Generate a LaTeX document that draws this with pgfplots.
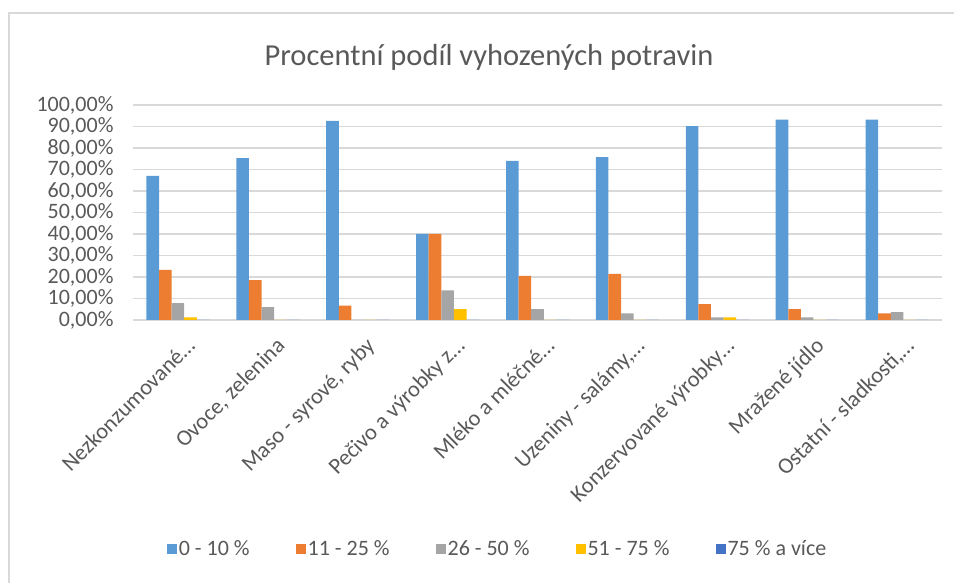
\documentclass[border=0pt]{standalone}
\usepackage{pgfplots}
\pgfplotsset{compat=1.18}
\usepackage{fontspec}
\setmainfont{Carlito}
\definecolor{s1}{HTML}{5B9BD5}
\definecolor{s2}{HTML}{ED7D31}
\definecolor{s3}{HTML}{A5A5A5}
\definecolor{s4}{HTML}{FFC000}
\definecolor{s5}{HTML}{4472C4}
\definecolor{txt}{HTML}{595959}
\definecolor{gridc}{HTML}{D9D9D9}
\begin{document}
\begin{tikzpicture}
\useasboundingbox (0,0) rectangle (954bp,583bp);
\draw[gridc, line width=2.5bp] (9bp,0bp) -- (9bp,570bp) -- (954bp,570bp);
\begin{axis}[
  at={(133bp,263bp)}, anchor=south west,
  scale only axis, width=809bp, height=215bp,
  ymin=0, ymax=100, xmin=-0.5, xmax=8.5,
  ybar=0pt, bar width=12.6bp,
  ytick={0,10,...,100},
  xtick={0,...,8},
  xticklabels={Nezkonzumované…, {Ovoce, zelenina}, {Maso - syrové, ryby}, Pečivo a výrobky z…, Mléko a mléčné…, {Uzeniny - salámy,…}, Konzervované výrobky…, Mražené jídlo, {Ostatní - sladkosti,…}},
  yticklabel={\pgfmathprintnumber[fixed,fixed zerofill,precision=2,use comma]{\tick}\%},
  /pgf/number format/assume math mode=true,
  axis line style={draw=none},
  axis x line*=bottom,
  x axis line style={draw=gridc, line width=1.5bp},
  ymajorgrids, grid style={gridc, line width=1.5bp},
  major tick length=0pt,
  tick label style={font=\fontsize{22bp}{22bp}\selectfont, text=txt},
  yticklabel style={anchor=east, xshift=-16bp},
  xticklabel style={rotate=45, anchor=north east, xshift=-3bp, yshift=-13bp, font=\fontsize{22.5bp}{23bp}\selectfont},
  title={Procentní podíl vyhozených potravin},
  title style={at={(0.44,1.195)}, anchor=center, font=\fontsize{30.5bp}{31bp}\selectfont, text=txt},
  legend style={at={(0.4506,-1.065)}, anchor=center, draw=none, legend columns=5,
    font=\fontsize{22bp}{22bp}\selectfont, text=txt,
    /tikz/every even column/.append style={column sep=44bp}},
  legend image code/.code={\fill[#1] (0bp,-5bp) rectangle (10bp,5bp);},
  every axis plot/.append style={draw=none},
]
\addplot[fill=s1] coordinates {(0,67.0) (1,75.3) (2,92.6) (3,40.0) (4,74.0) (5,75.8) (6,90.2) (7,93.2) (8,93.2)};
\addplot[fill=s2] coordinates {(0,23.3) (1,18.6) (2,6.7) (3,40.0) (4,20.5) (5,21.5) (6,7.4) (7,5.0) (8,3.1)};
\addplot[fill=s3] coordinates {(0,7.8) (1,6.0) (2,0) (3,13.8) (4,5.0) (5,3.1) (6,1.2) (7,1.2) (8,3.7)};
\addplot[fill=s4] coordinates {(0,1.2) (1,0) (2,0) (3,5.0) (4,0) (5,0) (6,1.2) (7,0) (8,0)};
\addplot[fill=s5] coordinates {(0,0) (1,0) (2,0) (3,0) (4,0) (5,0) (6,0) (7,0) (8,0)};
\legend{0 - 10 \%, 11 - 25 \%, 26 - 50 \%, 51 - 75 \%, 75 \% a více}
\end{axis}
\end{tikzpicture}
\end{document}
